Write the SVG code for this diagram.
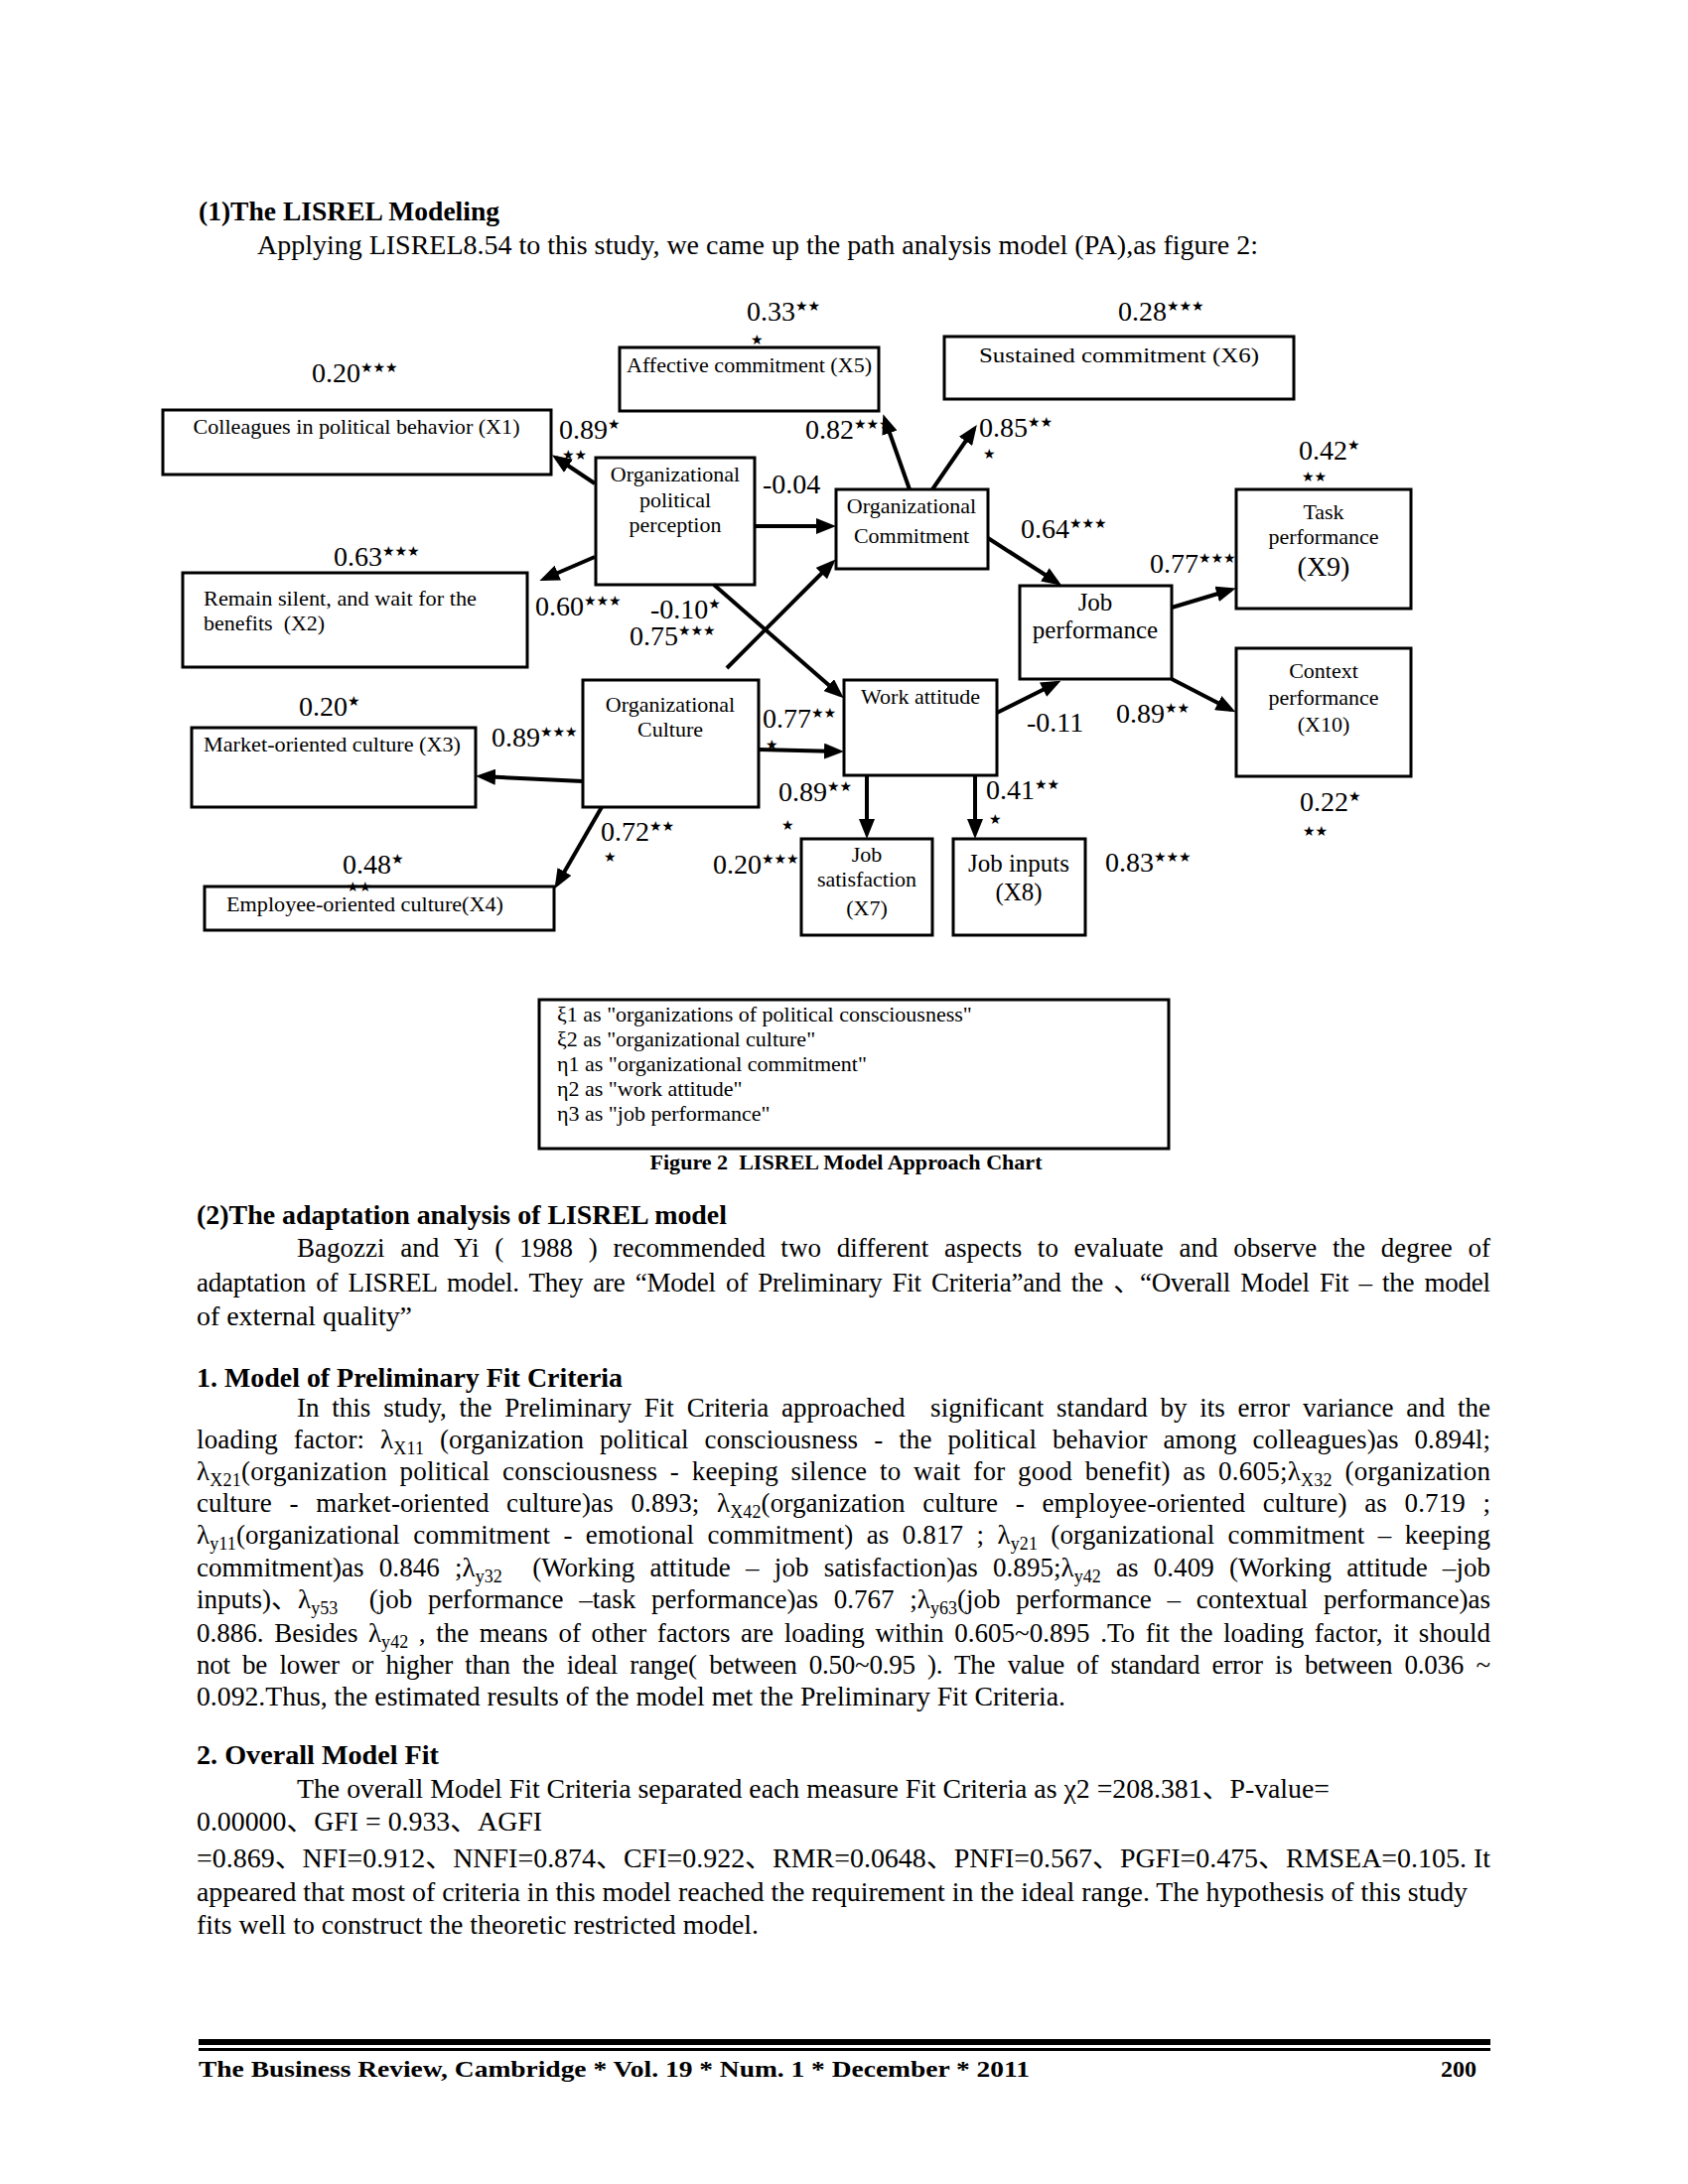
<svg xmlns="http://www.w3.org/2000/svg" width="1700" height="2200" viewBox="0 0 1700 2200">
<style>
text{font-family:"Liberation Serif","Noto Sans CJK SC",serif;fill:#000}
.n{font-size:22px}
.nl{font-size:25px}
.v{font-size:28px}
.s{font-family:"DejaVu Sans",sans-serif;font-size:14px}
.b{font-size:27px}
.h{font-size:27px;font-weight:bold}
.sub{font-size:18px}
.lg{font-size:22px}
.box{fill:none;stroke:#000;stroke-width:3}
.c{fill:none;stroke:#000;stroke-width:4;marker-end:url(#ah)}
.m{text-anchor:middle}
</style>
<defs>
<marker id="ah" markerUnits="userSpaceOnUse" markerWidth="20" markerHeight="16" refX="15" refY="8" orient="auto">
<path d="M0,0 L20,8 L0,16 z" fill="#000"/>
</marker>
</defs>
<rect width="1700" height="2200" fill="#fff"/>

<text class="h" x="200" y="222" textLength="303" lengthAdjust="spacingAndGlyphs">(1)The LISREL Modeling</text>
<text class="b" x="259" y="256" textLength="1008" lengthAdjust="spacingAndGlyphs">Applying LISREL8.54 to this study, we came up the path analysis model (PA),as figure 2:</text>

<g id="connectors">
<line class="c" x1="599" y1="487" x2="560" y2="461"/>
<line class="c" x1="599" y1="561" x2="548" y2="583"/>
<line class="c" x1="760" y1="530" x2="837" y2="530"/>
<line class="c" x1="719" y1="589" x2="846" y2="700"/>
<line class="c" x1="732" y1="673" x2="838" y2="567"/>
<line class="c" x1="916" y1="493" x2="891" y2="422"/>
<line class="c" x1="939" y1="493" x2="981" y2="432"/>
<line class="c" x1="995" y1="542" x2="1065" y2="587"/>
<line class="c" x1="1180" y1="612" x2="1240" y2="594"/>
<line class="c" x1="1180" y1="684" x2="1240" y2="715"/>
<line class="c" x1="1004" y1="718" x2="1064" y2="688"/>
<line class="c" x1="587" y1="787" x2="484" y2="782"/>
<line class="c" x1="606" y1="813" x2="561" y2="891"/>
<line class="c" x1="764" y1="755" x2="845" y2="757"/>
<line class="c" x1="873" y1="781" x2="873" y2="840"/>
<line class="c" x1="982" y1="781" x2="982" y2="840"/>
</g>

<g id="n-x1">
<rect class="box" x="164" y="413" width="391" height="65"/>
<text class="n m" x="359" y="437" textLength="329" lengthAdjust="spacingAndGlyphs">Colleagues in political behavior (X1)</text>
</g>
<g id="n-x5">
<rect class="box" x="624" y="350" width="261" height="64"/>
<text class="n" x="631" y="375" textLength="247" lengthAdjust="spacingAndGlyphs">Affective commitment (X5)</text>
</g>
<g id="n-x6">
<rect class="box" x="951" y="339" width="352" height="63"/>
<text class="n m" x="1127" y="365" textLength="282" lengthAdjust="spacingAndGlyphs">Sustained commitment (X6)</text>
</g>
<g id="n-opp">
<rect class="box" x="600" y="461" width="160" height="128"/>
<text class="n m" x="680" y="485">Organizational</text>
<text class="n m" x="680" y="511">political</text>
<text class="n m" x="680" y="536">perception</text>
</g>
<g id="n-oc">
<rect class="box" x="842" y="493" width="153" height="80"/>
<text class="n m" x="918" y="517">Organizational</text>
<text class="n m" x="918" y="547">Commitment</text>
</g>
<g id="n-x9">
<rect class="box" x="1245" y="493" width="176" height="120"/>
<text class="n m" x="1333" y="523">Task</text>
<text class="n m" x="1333" y="548">performance</text>
<text class="v m" x="1333" y="580">(X9)</text>
</g>
<g id="n-x2">
<rect class="box" x="184" y="577" width="347" height="95"/>
<text class="n" x="205" y="610" textLength="275" lengthAdjust="spacingAndGlyphs">Remain silent, and wait for the</text>
<text class="n" x="205" y="635" xml:space="preserve">benefits  (X2)</text>
</g>
<g id="n-jp">
<rect class="box" x="1027" y="590" width="153" height="94"/>
<text class="nl m" x="1103" y="615">Job</text>
<text class="nl m" x="1103" y="643">performance</text>
</g>
<g id="n-x10">
<rect class="box" x="1245" y="653" width="176" height="129"/>
<text class="n m" x="1333" y="683">Context</text>
<text class="n m" x="1333" y="710">performance</text>
<text class="n m" x="1333" y="737">(X10)</text>
</g>
<g id="n-orgc">
<rect class="box" x="587" y="685" width="177" height="128"/>
<text class="n m" x="675" y="717">Organizational</text>
<text class="n m" x="675" y="742">Culture</text>
</g>
<g id="n-wa">
<rect class="box" x="850" y="685" width="154" height="96"/>
<text class="n m" x="927" y="709">Work attitude</text>
</g>
<g id="n-x3">
<rect class="box" x="193" y="733" width="286" height="80"/>
<text class="n" x="205" y="757" textLength="259" lengthAdjust="spacingAndGlyphs">Market-oriented culture (X3)</text>
</g>
<g id="n-x7">
<rect class="box" x="807" y="845" width="132" height="97"/>
<text class="n m" x="873" y="868">Job</text>
<text class="n m" x="873" y="893">satisfaction</text>
<text class="n m" x="873" y="922">(X7)</text>
</g>
<g id="n-x8">
<rect class="box" x="960" y="845" width="133" height="97"/>
<text class="nl m" x="1026" y="878">Job inputs</text>
<text class="nl m" x="1026" y="907">(X8)</text>
</g>
<g id="n-x4">
<rect class="box" x="206" y="893" width="352" height="44"/>
<text class="n" x="228" y="918" textLength="279" lengthAdjust="spacingAndGlyphs">Employee-oriented culture(X4)</text>
</g>

<g id="labels">
<text class="v" x="314" y="385">0.20<tspan class="s" dy="-10">★★★</tspan></text>
<text class="v" x="752" y="323">0.33<tspan class="s" dy="-10">★★</tspan></text>
<text class="s" x="756" y="347">★</text>
<text class="v" x="1126" y="323">0.28<tspan class="s" dy="-10">★★★</tspan></text>
<text class="v" x="563" y="442">0.89<tspan class="s" dy="-10">★</tspan></text>
<text class="s" x="566" y="463">★★</text>
<text class="v" x="811" y="442">0.82<tspan class="s" dy="-10">★★★</tspan></text>
<text class="v" x="986" y="440">0.85<tspan class="s" dy="-10">★★</tspan></text>
<text class="s" x="990" y="462">★</text>
<text class="v" x="1308" y="463">0.42<tspan class="s" dy="-10">★</tspan></text>
<text class="s" x="1311" y="485">★★</text>
<text class="v" x="768" y="497">-0.04</text>
<text class="v" x="1028" y="542">0.64<tspan class="s" dy="-10">★★★</tspan></text>
<text class="v" x="336" y="570">0.63<tspan class="s" dy="-10">★★★</tspan></text>
<text class="v" x="1158" y="577">0.77<tspan class="s" dy="-10">★★★</tspan></text>
<text class="v" x="539" y="620">0.60<tspan class="s" dy="-10">★★★</tspan></text>
<text class="v" x="655" y="623">-0.10<tspan class="s" dy="-10">★</tspan></text>
<text class="v" x="634" y="650">0.75<tspan class="s" dy="-10">★★★</tspan></text>
<text class="v" x="301" y="721">0.20<tspan class="s" dy="-10">★</tspan></text>
<text class="v" x="495" y="752">0.89<tspan class="s" dy="-10">★★★</tspan></text>
<text class="v" x="768" y="733">0.77<tspan class="s" dy="-10">★★</tspan></text>
<text class="s" x="771" y="755">★</text>
<text class="v" x="1034" y="737">-0.11</text>
<text class="v" x="1124" y="728">0.89<tspan class="s" dy="-10">★★</tspan></text>
<text class="v" x="784" y="807">0.89<tspan class="s" dy="-10">★★</tspan></text>
<text class="s" x="787" y="836">★</text>
<text class="v" x="993" y="805">0.41<tspan class="s" dy="-10">★★</tspan></text>
<text class="s" x="996" y="830">★</text>
<text class="v" x="1309" y="817">0.22<tspan class="s" dy="-10">★</tspan></text>
<text class="s" x="1312" y="842">★★</text>
<text class="v" x="605" y="847">0.72<tspan class="s" dy="-10">★★</tspan></text>
<text class="s" x="608" y="868">★</text>
<text class="v" x="345" y="880">0.48<tspan class="s" dy="-10">★</tspan></text>
<text class="s" x="349" y="898">★★</text>
<text class="v" x="718" y="880">0.20<tspan class="s" dy="-10">★★★</tspan></text>
<text class="v" x="1113" y="878">0.83<tspan class="s" dy="-10">★★★</tspan></text>
</g>

<g id="legend">
<rect class="box" x="543" y="1007" width="634" height="150"/>
<text class="lg" x="561" y="1029">ξ1 as "organizations of political consciousness"</text>
<text class="lg" x="561" y="1054">ξ2 as "organizational culture"</text>
<text class="lg" x="561" y="1079">η1 as "organizational commitment"</text>
<text class="lg" x="561" y="1104">η2 as "work attitude"</text>
<text class="lg" x="561" y="1129">η3 as "job performance"</text>
</g>
<text x="852" y="1178" text-anchor="middle" font-size="22" font-weight="bold" textLength="395" lengthAdjust="spacingAndGlyphs" xml:space="preserve">Figure 2  LISREL Model Approach Chart</text>

<text class="h" x="198" y="1233" textLength="534" lengthAdjust="spacingAndGlyphs">(2)The adaptation analysis of LISREL model</text>
<text class="b" x="299" y="1266" word-spacing="8.9" textLength="1202" lengthAdjust="spacing">Bagozzi and Yi ( 1988 ) recommended two different aspects to evaluate and observe the degree of</text>
<text class="b" x="198" y="1301" word-spacing="3.7" textLength="1303" lengthAdjust="spacing">adaptation of LISREL model. They are “Model of Preliminary Fit Criteria”and the 、“Overall Model Fit – the model</text>
<text class="b" x="198" y="1335" textLength="217" lengthAdjust="spacingAndGlyphs">of external quality”</text>

<text class="h" x="198" y="1397" textLength="429" lengthAdjust="spacingAndGlyphs">1. Model of Preliminary Fit Criteria</text>
<text class="b" x="299" y="1427" word-spacing="6" textLength="1202" lengthAdjust="spacing" xml:space="preserve">In this study, the Preliminary Fit Criteria approached  significant standard by its error variance and the</text>
<text class="b" x="198" y="1459" word-spacing="9" textLength="1303" lengthAdjust="spacing">loading factor: λ<tspan class="sub" dy="6">X11</tspan><tspan dy="-6"> (organization political consciousness - the political behavior among colleagues)as 0.894l;</tspan></text>
<text class="b" x="198" y="1491" word-spacing="5.6" textLength="1303" lengthAdjust="spacing">λ<tspan class="sub" dy="6">X21</tspan><tspan dy="-6">(organization political consciousness - keeping silence to wait for good benefit) as 0.605;λ</tspan><tspan class="sub" dy="6">X32</tspan><tspan dy="-6"> (organization</tspan></text>
<text class="b" x="198" y="1523" word-spacing="10.7" textLength="1303" lengthAdjust="spacing">culture - market-oriented culture)as 0.893; λ<tspan class="sub" dy="6">X42</tspan><tspan dy="-6">(organization culture - employee-oriented culture) as 0.719 ;</tspan></text>
<text class="b" x="198" y="1555" word-spacing="6.4" textLength="1303" lengthAdjust="spacing">λ<tspan class="sub" dy="6">y11</tspan><tspan dy="-6">(organizational commitment - emotional commitment) as 0.817 ; λ</tspan><tspan class="sub" dy="6">y21</tspan><tspan dy="-6"> (organizational commitment – keeping</tspan></text>
<text class="b" x="198" y="1588" word-spacing="8.4" textLength="1303" lengthAdjust="spacing" xml:space="preserve">commitment)as 0.846 ;λ<tspan class="sub" dy="6">y32</tspan><tspan dy="-6">  (Working attitude – job satisfaction)as 0.895;λ</tspan><tspan class="sub" dy="6">y42</tspan><tspan dy="-6"> as 0.409 (Working attitude –job</tspan></text>
<text class="b" x="198" y="1620" word-spacing="9" textLength="1303" lengthAdjust="spacing" xml:space="preserve">inputs)、λ<tspan class="sub" dy="6">y53</tspan><tspan dy="-6">  (job performance –task performance)as 0.767 ;λ</tspan><tspan class="sub" dy="6">y63</tspan><tspan dy="-6">(job performance – contextual performance)as</tspan></text>
<text class="b" x="198" y="1654" word-spacing="3.8" textLength="1303" lengthAdjust="spacing">0.886. Besides λ<tspan class="sub" dy="6">y42</tspan><tspan dy="-6"> , the means of other factors are loading within 0.605~0.895 .To fit the loading factor, it should</tspan></text>
<text class="b" x="198" y="1686" word-spacing="5.8" textLength="1303" lengthAdjust="spacing">not be lower or higher than the ideal range( between 0.50~0.95 ). The value of standard error is between 0.036 ~</text>
<text class="b" x="198" y="1718" textLength="875" lengthAdjust="spacingAndGlyphs">0.092.Thus, the estimated results of the model met the Preliminary Fit Criteria.</text>

<text class="h" x="198" y="1777" textLength="244" lengthAdjust="spacingAndGlyphs">2. Overall Model Fit</text>
<text class="b" x="299" y="1811" textLength="1040" lengthAdjust="spacingAndGlyphs">The overall Model Fit Criteria separated each measure Fit Criteria as χ2 =208.381、P-value=</text>
<text class="b" x="198" y="1844" textLength="348" lengthAdjust="spacingAndGlyphs">0.00000、GFI = 0.933、AGFI</text>
<text class="b" x="198" y="1881" textLength="1303" lengthAdjust="spacingAndGlyphs">=0.869、NFI=0.912、NNFI=0.874、CFI=0.922、RMR=0.0648、PNFI=0.567、PGFI=0.475、RMSEA=0.105. It</text>
<text class="b" x="198" y="1915" textLength="1280" lengthAdjust="spacingAndGlyphs">appeared that most of criteria in this model reached the requirement in the ideal range. The hypothesis of this study</text>
<text class="b" x="198" y="1948" textLength="566" lengthAdjust="spacingAndGlyphs">fits well to construct the theoretic restricted model.</text>

<rect x="200" y="2054" width="1301" height="6" fill="#000"/>
<rect x="200" y="2063" width="1301" height="3" fill="#000"/>
<text x="200" y="2092" font-size="24" font-weight="bold" textLength="837" lengthAdjust="spacingAndGlyphs">The Business Review, Cambridge * Vol. 19 * Num. 1 * December * 2011</text>
<text x="1487" y="2092" font-size="24" font-weight="bold" text-anchor="end">200</text>
</svg>
